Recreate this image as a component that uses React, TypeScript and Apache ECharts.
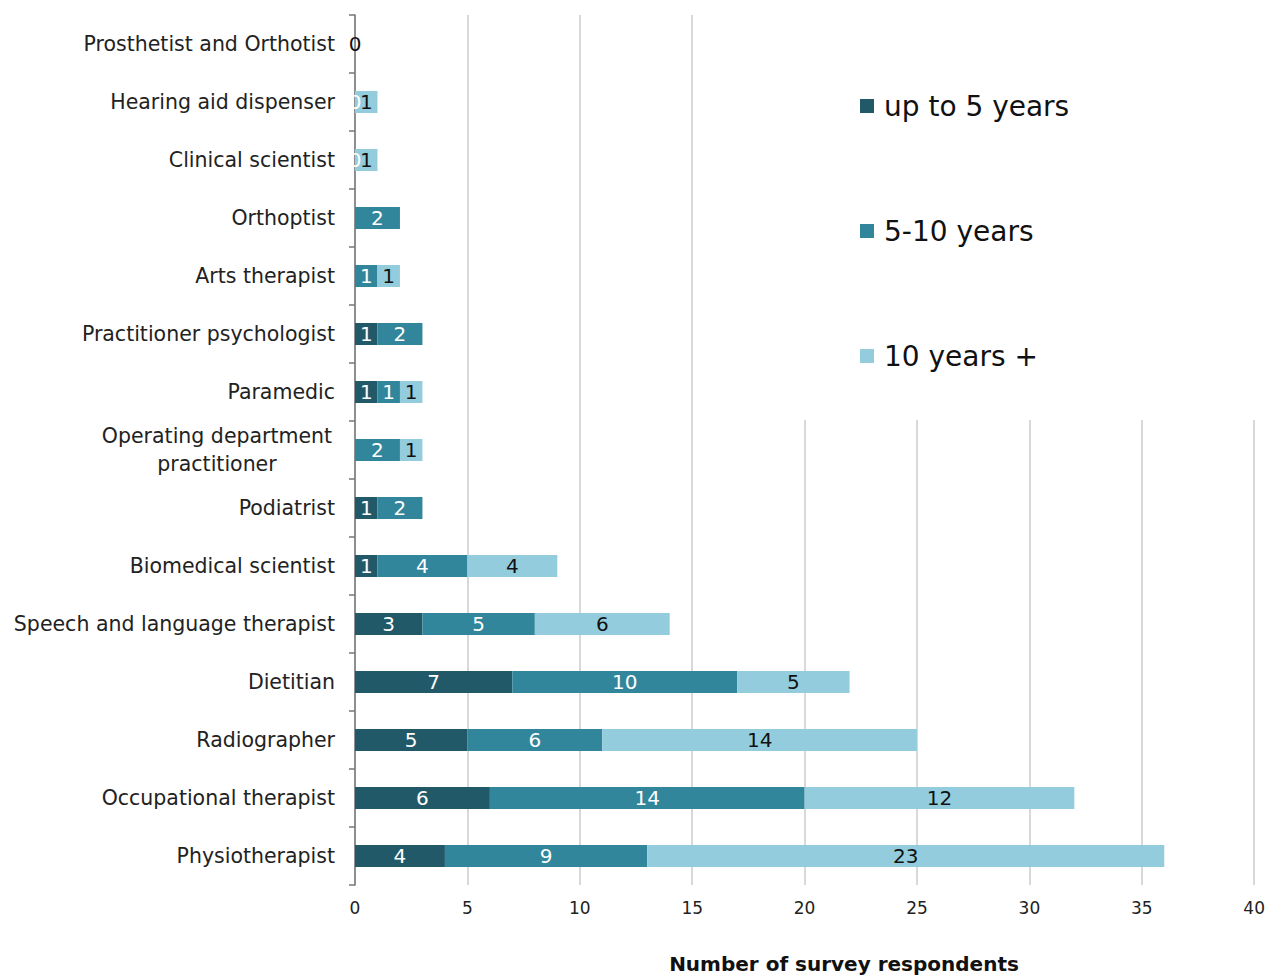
import React, { useEffect, useRef } from "react";
import * as echarts from "echarts";

const categories = [
  "Prosthetist and Orthotist",
  "Hearing aid dispenser",
  "Clinical scientist",
  "Orthoptist",
  "Arts therapist",
  "Practitioner psychologist",
  "Paramedic",
  "Operating department\npractitioner",
  "Podiatrist",
  "Biomedical scientist",
  "Speech and language therapist",
  "Dietitian",
  "Radiographer",
  "Occupational therapist",
  "Physiotherapist",
];

const upTo5 = [null, null, null, null, null, 1, 1, null, 1, 1, 3, 7, 5, 6, 4];
const fiveTo10 = [null, 0, 0, 2, 1, 2, 1, 2, 2, 4, 5, 10, 6, 14, 9];
const tenPlus = [0, 1, 1, null, 1, null, 1, 1, null, 4, 6, 5, 14, 12, 23];

const seriesNames = ["up to 5 years", "5-10 years", "10 years +"];
const colors = ["#215968", "#31869B", "#93CDDD"];
const labelColors = ["#ffffff", "#ffffff", "#111111"];

const xTicks = { min: 0, max: 40, interval: 5 };

const FONT = "DejaVu Sans";

export default function App() {
  const ref = useRef<HTMLDivElement>(null);

  useEffect(() => {
    if (!ref.current) return;
    const chart = echarts.init(ref.current, undefined, { renderer: "svg" });
    const dataSets = [upTo5, fiveTo10, tenPlus];
    chart.setOption({
      animation: false,
      backgroundColor: "#ffffff",
      grid: { left: 355, right: 13, top: 15, bottom: 91, containLabel: false },
      legend: {
        orient: "vertical",
        left: 860,
        top: 91,
        padding: 0,
        itemWidth: 14,
        itemHeight: 14,
        itemGap: 95,
        icon: "rect",
        data: seriesNames,
        textStyle: {
          fontFamily: FONT,
          fontSize: 28,
          lineHeight: 30,
          color: "#111111",
          padding: [0, 0, 0, 5],
        },
      },
      xAxis: {
        type: "value",
        min: xTicks.min,
        max: xTicks.max,
        interval: xTicks.interval,
        axisLine: { show: false },
        axisTick: { show: false },
        axisLabel: {
          fontFamily: FONT,
          fontSize: 17,
          color: "#222222",
          margin: 14,
        },
        splitLine: { show: true, lineStyle: { color: "#d9d9d9", width: 2 } },
      },
      yAxis: {
        type: "category",
        inverse: true,
        data: categories,
        axisLine: { show: true, lineStyle: { color: "#767676", width: 1.5 } },
        axisTick: { show: true, length: 6, lineStyle: { color: "#767676", width: 1.5 } },
        axisLabel: {
          fontFamily: FONT,
          fontSize: 20.5,
          color: "#222222",
          margin: 20,
          formatter: (v: string) =>
            v.indexOf("\n") >= 0
              ? v
                  .split("\n")
                  .map((s) => "{c|" + s + "}")
                  .join("\n")
              : v,
          rich: {
            c: {
              fontFamily: FONT,
              fontSize: 20.5,
              color: "#222222",
              width: 236,
              align: "center",
              lineHeight: 28,
            },
          },
        },
      },
      graphic: [
        {
          type: "rect",
          z: 1,
          shape: { x: 760, y: 0, width: 508, height: 420 },
          style: { fill: "#ffffff" },
        },
        {
          type: "text",
          z: 5,
          x: 844,
          y: 964,
          style: {
            text: "Number of survey respondents",
            font: "bold 20px 'DejaVu Sans'",
            fill: "#111111",
            textAlign: "center",
            textVerticalAlign: "middle",
          },
        },
      ],
      series: seriesNames.map((name, i) => ({
        name,
        type: "bar",
        stack: "total",
        barWidth: 22,
        data: dataSets[i],
        itemStyle: { color: colors[i] },
        label: {
          show: true,
          position: "inside",
          fontFamily: FONT,
          fontSize: 20,
          color: labelColors[i],
        },
      })),
    });
    return () => chart.dispose();
  }, []);

  return (
    <div
      ref={ref}
      style={{ position: "absolute", left: 0, top: 0, width: 1268, height: 976 }}
    />
  );
}
